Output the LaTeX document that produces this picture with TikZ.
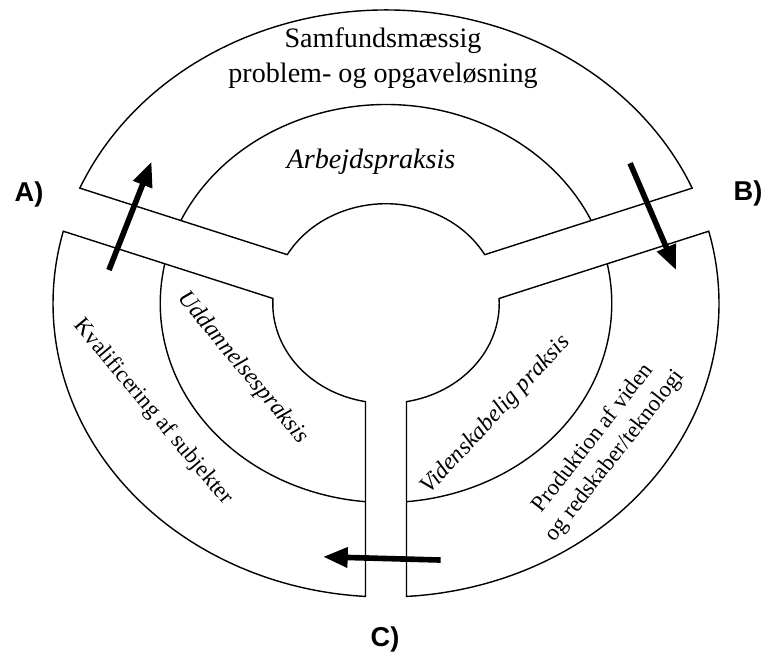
\documentclass[tikz,border=0pt]{standalone}
\usepackage{fontspec}
\setmainfont{Liberation Serif}
\setsansfont{Liberation Sans}
\usetikzlibrary{arrows.meta}

\begin{document}
\begin{tikzpicture}[x=6.66cm,y=5.87cm,
    ring/.style={draw,line width=0.8pt},
    field/.style={font=\fontsize{16}{20}\selectfont,align=center},
    practice/.style={font=\fontsize{16}{19}\selectfont\itshape},
    side practice/.style={font=\fontsize{13.5}{16}\selectfont\itshape},
    outcome/.style={font=\fontsize{13}{16}\selectfont,align=center},
    corner label/.style={font=\sffamily\bfseries\fontsize{15.5}{18}\selectfont},
    flow/.style={-{Triangle[length=14pt,width=11pt]},line width=3.2pt}]
    \useasboundingbox (-1.1592,-1.2010) rectangle (1.1291,1.0341);

    % the three sectors
    \path[ring] (156.85:1) arc[start angle=156.85,end angle=23.15,radius=1]
        -- (29.31:0.34) arc[start angle=29.31,end angle=150.69,radius=0.34] -- cycle;
    \path[ring] (165.74:1) arc[start angle=165.74,end angle=266.47,radius=1]
        -- (259.58:0.34) arc[start angle=259.58,end angle=177.1,radius=0.34] -- cycle;
    \path[ring] (273.53:1) arc[start angle=273.53,end angle=374.26,radius=1]
        -- (2.9:0.34) arc[start angle=2.9,end angle=-79.58,radius=0.34] -- cycle;

    % inner dividers
    \path[ring] (155.35:0.678) arc[start angle=155.35,end angle=24.65,radius=0.678];
    \path[ring] (168.48:0.678) arc[start angle=168.48,end angle=264.8,radius=0.678];
    \path[ring] (275.2:0.678) arc[start angle=275.2,end angle=371.52,radius=0.678];

    \node[field] (samf) at (-0.009,0.836) {Samfundsmæssig\\problem- og opgaveløsning};
    \node[practice] (arbejd) at (-0.045,0.482) {Arbejdspraksis};
    \node[side practice,rotate=-50] (udd) at (-0.43,-0.22) {Uddannelsespraksis};
    \node[outcome,rotate=-50] (kval) at (-0.70,-0.37) {Kvalificering af subjekter};
    \node[side practice,rotate=47] (vid) at (0.33,-0.38) {Videnskabelig praksis};
    \node[outcome,rotate=52] (prod) at (0.655,-0.49) {Produktion af viden\\og redskaber/teknologi};

    \node[corner label] (A) at (-1.072,0.370) {A)};
    \node[corner label] (B) at (1.087,0.376) {B)};
    \node[corner label] (C) at (-0.003,-1.146) {C)};

    % flows
    \coordinate (a1) at (-0.832,0.114);
    \coordinate (a2) at (-0.704,0.483);
    \coordinate (b1) at (0.733,0.478);
    \coordinate (b2) at (0.871,0.114);
    \coordinate (c1) at (0.164,-0.874);
    \coordinate (c2) at (-0.189,-0.863);
    \draw[flow] (a1) -- (a2);
    \draw[flow] (b1) -- (b2);
    \draw[flow] (c1) -- (c2);
\end{tikzpicture}
\end{document}
